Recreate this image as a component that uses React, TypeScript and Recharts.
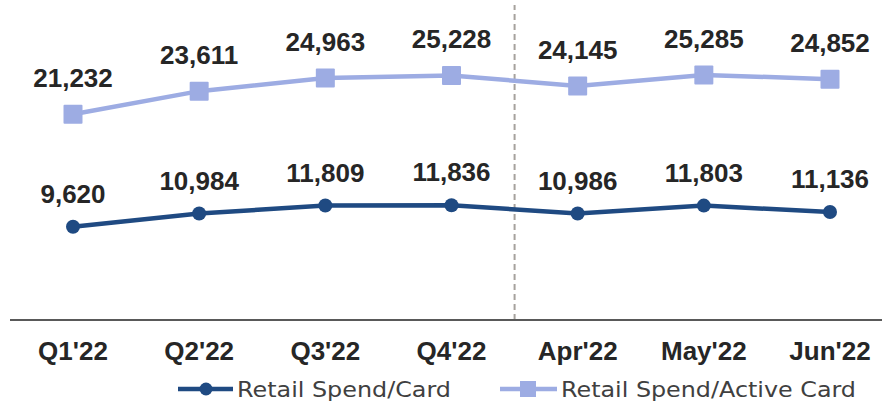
import React from "react";
import { LineChart, Line, XAxis, YAxis, ReferenceLine } from "recharts";

const categories = ["Q1'22", "Q2'22", "Q3'22", "Q4'22", "Apr'22", "May'22", "Jun'22"];
const spendPerCard = [9620, 10984, 11809, 11836, 10986, 11803, 11136];
const spendPerActiveCard = [21232, 23611, 24963, 25228, 24145, 25285, 24852];
const seriesNames = ["Retail Spend/Card", "Retail Spend/Active Card"];
const dividerPosition = 3.5;

const DARK = "#1f4a82";
const LIGHT = "#9dace3";
const TEXT = "#262626";

const data = categories.map((c, i) => ({
  cat: c,
  idx: i,
  card: spendPerCard[i],
  active: spendPerActiveCard[i],
}));

const fmt = (v: number) => v.toLocaleString("en-US");

const SquareDot = (props: any) => {
  const { cx, cy } = props;
  if (cx == null || cy == null) return null;
  const s = 19;
  return <rect x={cx - s / 2} y={cy - s / 2} width={s} height={s} fill={LIGHT} rx={1} />;
};

const CircleDot = (props: any) => {
  const { cx, cy } = props;
  if (cx == null || cy == null) return null;
  return <circle cx={cx} cy={cy} r={7} fill={DARK} />;
};

const makeLabel = (offset: number) => (props: any) => {
  const { x, y, value } = props;
  return (
    <text
      x={x}
      y={y - offset}
      textAnchor="middle"
      fontFamily="'Liberation Sans', Arial, sans-serif"
      fontWeight="bold"
      fontSize={26}
      fill={TEXT}
    >
      {fmt(value)}
    </text>
  );
};

const Tick = (props: any) => {
  const { x, y, payload } = props;
  return (
    <text
      x={x}
      y={y + 40}
      textAnchor="middle"
      fontFamily="'Liberation Sans', Arial, sans-serif"
      fontWeight="bold"
      fontSize={26}
      fill={TEXT}
    >
      {payload.value}
    </text>
  );
};

const LegendOverlay = () => (
  <svg
    width={882}
    height={28}
    style={{ position: "absolute", left: 0, top: 375, display: "block" }}
  >
    <line x1={178} x2={233} y1={14} y2={14} stroke={DARK} strokeWidth={4.5} />
    <circle cx={206} cy={14} r={6.5} fill={DARK} />
    <text
      x={237}
      y={22}
      fontFamily="'DejaVu Sans', sans-serif"
      fontSize={22}
      fill="#404040"
      textLength={214}
      lengthAdjust="spacingAndGlyphs"
    >
      {seriesNames[0]}
    </text>
    <line x1={500} x2={557} y1={14} y2={14} stroke={LIGHT} strokeWidth={4.5} />
    <rect x={520} y={6} width={16} height={16} fill={LIGHT} />
    <text
      x={561}
      y={22}
      fontFamily="'DejaVu Sans', sans-serif"
      fontSize={22}
      fill="#404040"
      textLength={295}
      lengthAdjust="spacingAndGlyphs"
    >
      {seriesNames[1]}
    </text>
  </svg>
);

export default function App() {
  return (
    <div style={{ position: "absolute", left: 0, top: 0, width: 882, height: 405, background: "#fff" }}>
      <LineChart
        width={882}
        height={405}
        data={data}
        margin={{ top: 5, right: 0, bottom: 55, left: 10 }}
      >
        <XAxis
          dataKey="cat"
          tickLine={false}
          tickSize={0}
          tickMargin={0}
          axisLine={{ stroke: "#595959", strokeWidth: 2 }}
          padding={{ left: 63, right: 52 }}
          tick={<Tick />}
          interval={0}
        />
        <XAxis
          xAxisId="n"
          type="number"
          dataKey="idx"
          domain={[0, 6]}
          allowDataOverflow
          padding={{ left: 63, right: 52 }}
          hide
        />
        <YAxis domain={[0, 32500]} allowDataOverflow hide />
        <ReferenceLine
          xAxisId="n"
          x={dividerPosition}
          stroke="#a6a29d"
          strokeWidth={2}
          strokeDasharray="6 4"
        />
        <Line
          dataKey="active"
          name={seriesNames[1]}
          stroke={LIGHT}
          strokeWidth={4.5}
          dot={<SquareDot />}
          activeDot={false}
          isAnimationActive={false}
          label={makeLabel(27)}
        />
        <Line
          dataKey="card"
          name={seriesNames[0]}
          stroke={DARK}
          strokeWidth={4.5}
          dot={<CircleDot />}
          activeDot={false}
          isAnimationActive={false}
          label={makeLabel(24)}
        />
      </LineChart>
      <LegendOverlay />
    </div>
  );
}
